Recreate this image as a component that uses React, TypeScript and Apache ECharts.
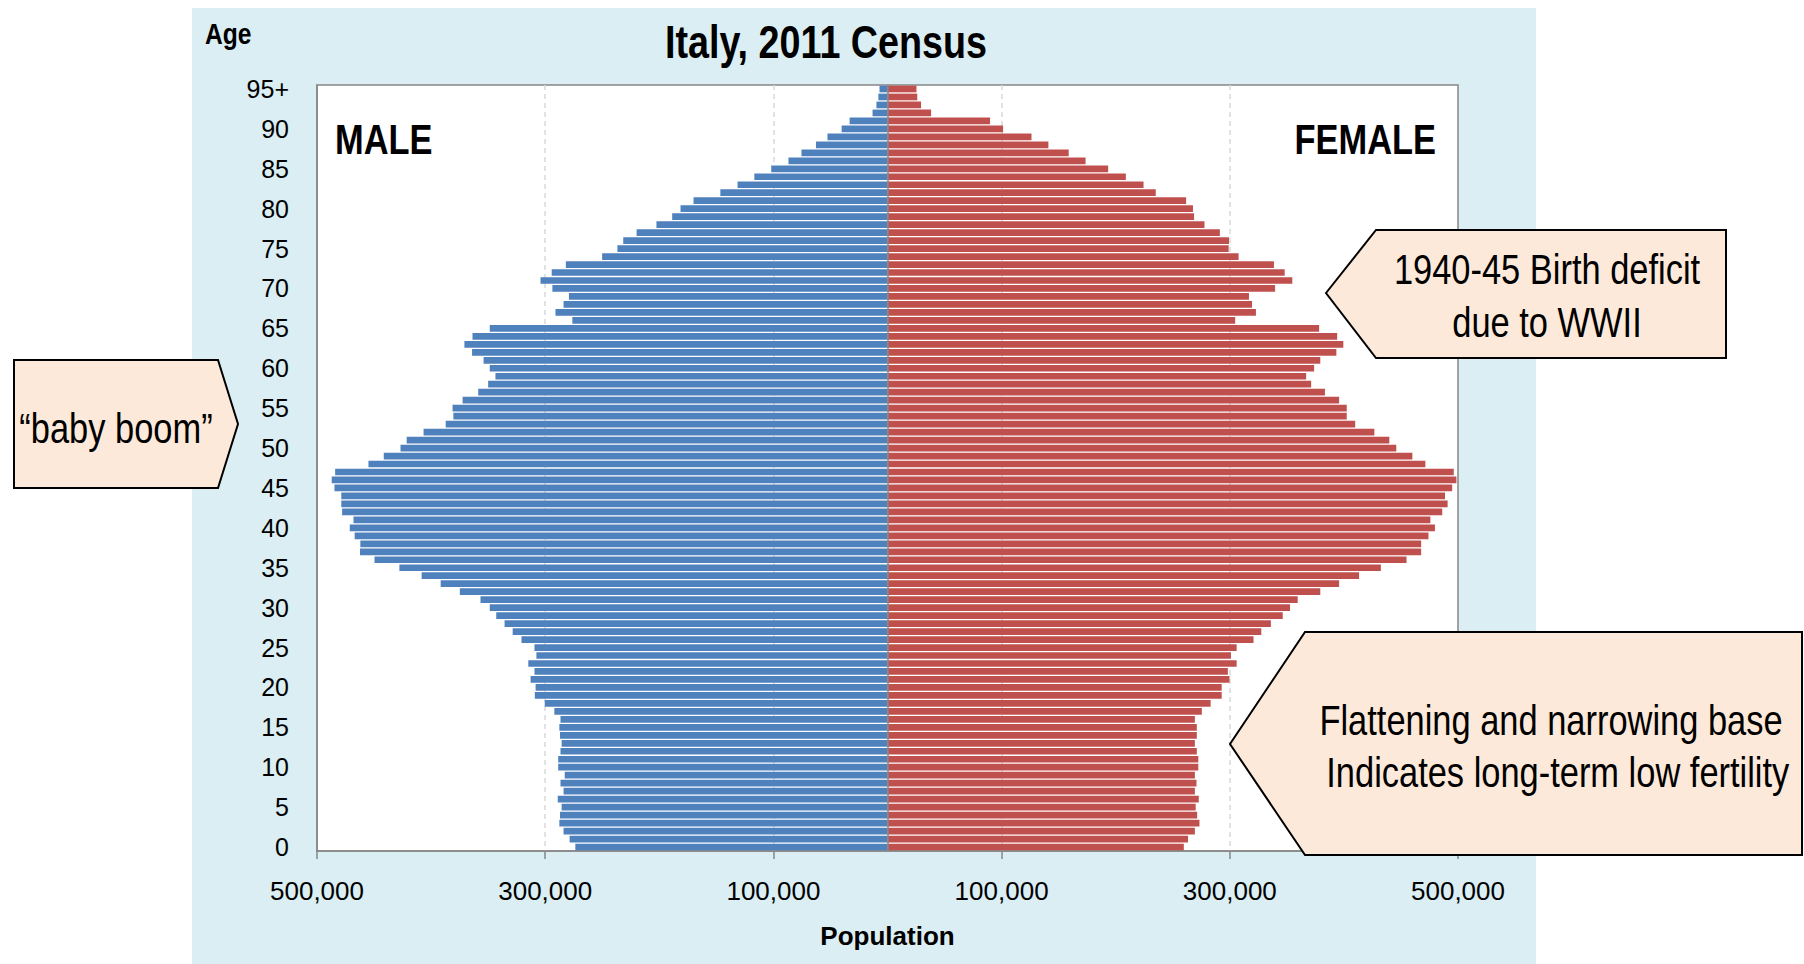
import React, { useEffect, useRef } from 'react';
import * as echarts from 'echarts';

// Single-year age groups, 0 … 94 and an open-ended 95+ group
const AGES: string[] = Array.from({ length: 95 }, (_, i) => String(i)).concat(['95+']);

// Resident males by age (0 … 95+)
const MALE: number[] = [
  273600, 278600, 283900, 287600, 287000, 285600, 289000, 283900, 286600, 282900,
  288600, 288600, 286600, 285600, 287000, 287600, 286600, 292000, 300400, 309100,
  308400, 312800, 309400, 314800, 307700, 309400, 320800, 328500, 335600, 342900,
  348600, 356700, 374800, 391600, 408300, 427800, 449600, 462300, 462000, 467000,
  471300, 468000, 478000, 478700, 478700, 484700, 487100, 484100, 454900, 441500,
  426800, 421400, 406600, 387200, 380500, 381200, 372400, 358700, 350000, 343600,
  348600, 354000, 364100, 370800, 363700, 348600, 276200, 291000, 283900, 279200,
  293700, 304100, 294300, 281900, 250100, 236700, 231600, 219900, 202500, 188700,
  181400, 170000, 146500, 131400, 116700, 101900, 86800, 75400, 62700, 52600,
  40200, 33200, 13100, 9700, 8000, 7000,
];

// Resident females by age (0 … 95+)
const FEMALE: number[] = [
  259700, 263400, 269400, 273400, 271400, 270100, 272800, 269400, 270800, 269400,
  272400, 272400, 271100, 269400, 271100, 271100, 269400, 275500, 283200, 292900,
  292900, 299700, 298300, 306000, 301000, 306000, 320800, 327600, 336000, 346400,
  352800, 359500, 379300, 395800, 413300, 432400, 454900, 467700, 467700, 474100,
  479800, 475800, 486200, 490900, 488600, 494900, 498600, 496300, 471400, 460000,
  445900, 439800, 426700, 409900, 402500, 402500, 395800, 383400, 371300, 366900,
  373900, 379300, 393400, 399500, 394100, 378300, 304700, 322900, 319500, 316800,
  339700, 354800, 348100, 338700, 307700, 299000, 299300, 291300, 277800, 268700,
  267700, 261700, 235100, 224400, 208900, 193400, 173600, 158800, 141000, 126200,
  101300, 89900, 38200, 29400, 26100, 25400,
];

// Population axis: symmetric around zero, labelled every 200,000 from the edge
const X_MIN = -500000;
const X_MAX = 500000;
const X_STEP = 200000;

const TITLE = 'Italy, 2011 Census';
const CALLOUT_WAR = ['1940-45 Birth deficit', 'due to WWII'];
const CALLOUT_BASE = ['Flattening and narrowing base', ' Indicates long-term low fertility'];
const CALLOUT_BOOM = '\u201Cbaby boom\u201D';

const FONT = '"Liberation Sans", Arial, sans-serif';
// Narrow lettering: free-standing texts are squeezed horizontally
const NARROW = 0.82;
const BLUE = '#4F81BD';
const RED = '#C0504D';
const PANEL = '#DAEEF3';
const PEACH = '#FDE9D9';
const FRAME = '#868686';

const withCommas = (v: number) => String(Math.abs(v)).replace(/\B(?=(\d{3})+(?!\d))/g, ',');

function text(x: number, y: number, str: string, size: number, bold: boolean, align = 'center', z = 110) {
  return {
    type: 'text',
    x,
    y,
    z,
    scaleX: NARROW,
    silent: true,
    style: {
      text: str,
      fontFamily: FONT,
      fontSize: size,
      fontWeight: bold ? 'bold' : 'normal',
      fill: '#000',
      align,
      verticalAlign: 'middle',
    },
  };
}

function callout(points: number[][]) {
  return {
    type: 'polygon',
    z: 100,
    silent: true,
    shape: { points },
    style: { fill: PEACH, stroke: '#000', lineWidth: 2 },
  };
}

export default function App() {
  const ref = useRef<HTMLDivElement>(null);

  useEffect(() => {
    if (!ref.current) return;
    const chart = echarts.init(ref.current, undefined, { renderer: 'svg' });

    chart.setOption({
      animation: false,
      backgroundColor: '#ffffff',
      textStyle: { fontFamily: FONT },
      grid: {
        left: 317,
        right: 346,
        top: 85,
        bottom: 113,
        show: true,
        backgroundColor: '#ffffff',
        borderColor: FRAME,
        borderWidth: 1.5,
      },
      xAxis: {
        type: 'value',
        min: X_MIN,
        max: X_MAX,
        interval: X_STEP,
        name: 'Population',
        nameLocation: 'middle',
        nameGap: 72,
        nameTextStyle: { fontFamily: FONT, fontSize: 26, fontWeight: 'bold', color: '#000' },
        axisLine: { show: true, onZero: false, lineStyle: { color: FRAME, width: 1.5 } },
        axisTick: { show: true, length: 8, lineStyle: { color: FRAME, width: 1.5 } },
        axisLabel: {
          formatter: (v: number) => withCommas(v),
          color: '#000',
          fontFamily: FONT,
          fontSize: 26,
          margin: 27,
        },
        splitLine: {
          show: true,
          showMinLine: false,
          showMaxLine: false,
          lineStyle: { color: '#D9D9D9', width: 1.5, type: [5, 4] },
        },
      },
      yAxis: {
        type: 'category',
        data: AGES,
        axisLine: { show: true, onZero: false, lineStyle: { color: FRAME, width: 1.5 } },
        axisTick: { show: false },
        axisLabel: { interval: 4, color: '#000', fontFamily: FONT, fontSize: 25, margin: 28 },
        splitLine: { show: false },
      },
      series: [
        {
          name: 'Male',
          type: 'bar',
          stack: 'population',
          data: MALE.map((v) => -v),
          barCategoryGap: '16%',
          itemStyle: { color: BLUE },
          markLine: {
            silent: true,
            symbol: ['none', 'none'],
            label: { show: false },
            lineStyle: { color: FRAME, type: 'solid', width: 1.5 },
            data: [{ xAxis: 0 }],
          },
        },
        {
          name: 'Female',
          type: 'bar',
          stack: 'population',
          data: FEMALE,
          barCategoryGap: '16%',
          itemStyle: { color: RED },
        },
      ],
      graphic: [
        { type: 'rect', z: -100, silent: true, shape: { x: 192, y: 8, width: 1344, height: 960 }, style: { fill: PANEL } },
        text(826, 42, TITLE, 46, true),
        text(205, 34, 'Age', 30, true, 'left'),
        text(335, 139, 'MALE', 42, true, 'left'),
        text(1436, 139, 'FEMALE', 42, true, 'right'),
        callout([[1326, 293], [1376, 230], [1726, 230], [1726, 358], [1376, 358]]),
        text(1547, 269, CALLOUT_WAR[0], 42, false),
        text(1547, 322, CALLOUT_WAR[1], 42, false),
        callout([[1230, 744], [1305, 632], [1802, 632], [1802, 855], [1305, 855]]),
        text(1551, 720, CALLOUT_BASE[0], 42, false),
        text(1553, 772, CALLOUT_BASE[1], 42, false),
        callout([[14, 360], [218, 360], [238, 424], [218, 488], [14, 488]]),
        text(116, 428, CALLOUT_BOOM, 42, false),
      ],
    });

    return () => chart.dispose();
  }, []);

  return (
    <div
      ref={ref}
      style={{ position: 'absolute', left: 0, top: 0, width: 1804, height: 964 }}
    />
  );
}
